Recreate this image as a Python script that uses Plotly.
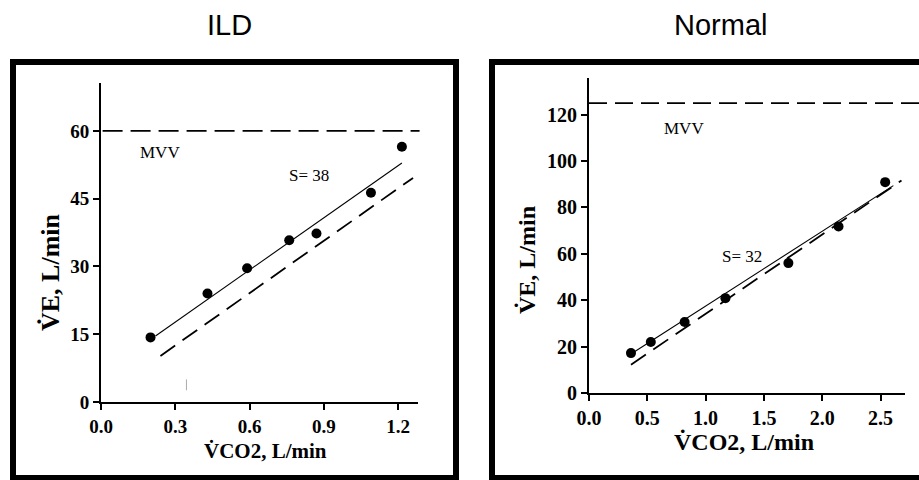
import plotly.graph_objects as go

# ILD patient: ventilation vs CO2 output
ild_vco2 = [0.20, 0.43, 0.59, 0.76, 0.87, 1.09, 1.215]
ild_ve = [14.3, 24.0, 29.6, 35.8, 37.3, 46.3, 56.5]
ild_fit_x = [0.22, 1.215]
ild_fit_y = [14.6, 52.9]
ild_pred_x = [0.24, 1.26]
ild_pred_y = [10.2, 49.6]
ild_mvv = 60
ild_slope = 38

# Normal subject
nor_vco2 = [0.36, 0.53, 0.82, 1.17, 1.71, 2.14, 2.54]
nor_ve = [17.2, 22.0, 30.6, 40.9, 56.0, 71.8, 90.9]
nor_fit_x = [0.35, 2.61]
nor_fit_y = [16.5, 89.4]
nor_pred_x = [0.36, 2.68]
nor_pred_y = [12.2, 91.6]
nor_mvv = 125
nor_slope = 32

ild_xticks = [0.0, 0.3, 0.6, 0.9, 1.2]
ild_yticks = [0, 15, 30, 45, 60]
nor_xticks = [0.0, 0.5, 1.0, 1.5, 2.0, 2.5]
nor_yticks = [0, 20, 40, 60, 80, 100, 120]

W, H = 919, 480
SERIF = "Liberation Serif, Times New Roman, serif"
SANS = "Liberation Sans, Arial, sans-serif"

fig = go.Figure()


def add_panel(xa, ya, vx, vy, fx, fy, px, py):
    fig.add_trace(go.Scatter(x=px, y=py, mode="lines", xaxis=xa, yaxis=ya,
                             line=dict(color="black", width=1.8, dash="18px,9px"),
                             showlegend=False, hoverinfo="skip"))
    fig.add_trace(go.Scatter(x=fx, y=fy, mode="lines", xaxis=xa, yaxis=ya,
                             line=dict(color="black", width=1.1),
                             showlegend=False, hoverinfo="skip"))
    fig.add_trace(go.Scatter(x=vx, y=vy, mode="markers", xaxis=xa, yaxis=ya,
                             marker=dict(color="black", size=10),
                             showlegend=False, hoverinfo="skip"))


add_panel("x", "y", ild_vco2, ild_ve, ild_fit_x, ild_fit_y, ild_pred_x, ild_pred_y)
add_panel("x2", "y2", nor_vco2, nor_ve, nor_fit_x, nor_fit_y, nor_pred_x, nor_pred_y)

# faint mark near the ILD x-axis
fig.add_trace(go.Scatter(x=[0.345, 0.345], y=[2.6, 5.0], mode="lines",
                         line=dict(color="#aaaaaa", width=1),
                         showlegend=False, hoverinfo="skip"))


def axis_style(font_size):
    return dict(showline=True, linecolor="black", linewidth=2,
                ticks="outside", ticklen=6, tickwidth=2, tickcolor="black",
                showgrid=False, zeroline=False, automargin=False,
                tickfont=dict(family=SERIF, size=font_size, color="black", weight="bold"))


def px_x(p):
    return p / W


def px_y(p):
    return 1 - p / H


fig.update_layout(
    template="none",
    width=W, height=H, autosize=False,
    margin=dict(l=0, r=0, t=0, b=0, pad=0, autoexpand=False),
    paper_bgcolor="white", plot_bgcolor="white",
    xaxis=dict(domain=[px_x(101), px_x(418)], range=[0, 1.28],
               tickvals=ild_xticks, tickformat=".1f", anchor="y", **axis_style(19)),
    yaxis=dict(domain=[px_y(402), px_y(83)], range=[0, 70.6],
               tickvals=ild_yticks, anchor="x", **axis_style(19)),
    xaxis2=dict(domain=[px_x(589), px_x(905)], range=[0, 2.71],
                tickvals=nor_xticks, tickformat=".1f", anchor="y2", **axis_style(20)),
    yaxis2=dict(domain=[px_y(393), px_y(78)], range=[0, 135.8],
                tickvals=nor_yticks, anchor="x2", **axis_style(20)),
)

# MVV reference lines
fig.add_shape(type="line", xref="x domain", yref="y", x0=0.005, x1=1.005,
              y0=ild_mvv, y1=ild_mvv, line=dict(color="black", width=1.8, dash="20px,8px"))
fig.add_shape(type="line", xref="x2 domain", yref="y2", x0=0.0, x1=1.05,
              y0=nor_mvv, y1=nor_mvv, line=dict(color="black", width=1.8, dash="18px,8px"))

# panel frames
fig.add_shape(type="rect", xref="paper", yref="paper",
              x0=px_x(13), x1=px_x(456), y0=px_y(478), y1=px_y(62),
              line=dict(color="black", width=6))
fig.add_shape(type="rect", xref="paper", yref="paper",
              x0=px_x(492), x1=px_x(926), y0=px_y(478), y1=px_y(62),
              line=dict(color="black", width=6))


def note(x, y, ref, text):
    fig.add_annotation(x=x, y=y, xref=ref[0], yref=ref[1], text=text, showarrow=False,
                       xanchor="left", yanchor="middle",
                       font=dict(family=SERIF, size=17, color="black"))


note(0.15, 55.3, ("x", "y"), "MVV")
note(0.75, 50.2, ("x", "y"), f"S= {ild_slope}")
note(0.63, 114, ("x2", "y2"), "MVV")
note(1.12, 59, ("x2", "y2"), f"S= {nor_slope}")


def label(cx, cy, text, size, family=SERIF, bold=True, angle=0):
    fig.add_annotation(x=px_x(cx), y=px_y(cy), xref="paper", yref="paper",
                       text=text, showarrow=False, textangle=angle,
                       xanchor="center", yanchor="middle",
                       font=dict(family=family, size=size, color="black",
                                 weight="bold" if bold else "normal"))


# axis titles
label(265, 451, "V\u0307CO2, L/min", 21)
label(744, 442, "V\u0307CO2, L/min", 24)
label(50, 272, "V\u0307E, L/min", 26, angle=-90)
label(527, 260, "V\u0307E, L/min", 24, angle=-90)

# panel titles
label(229, 25, "ILD", 29, family=SANS, bold=False)
label(720, 25, "Normal", 29, family=SANS, bold=False)

fig.write_html("out.html")
